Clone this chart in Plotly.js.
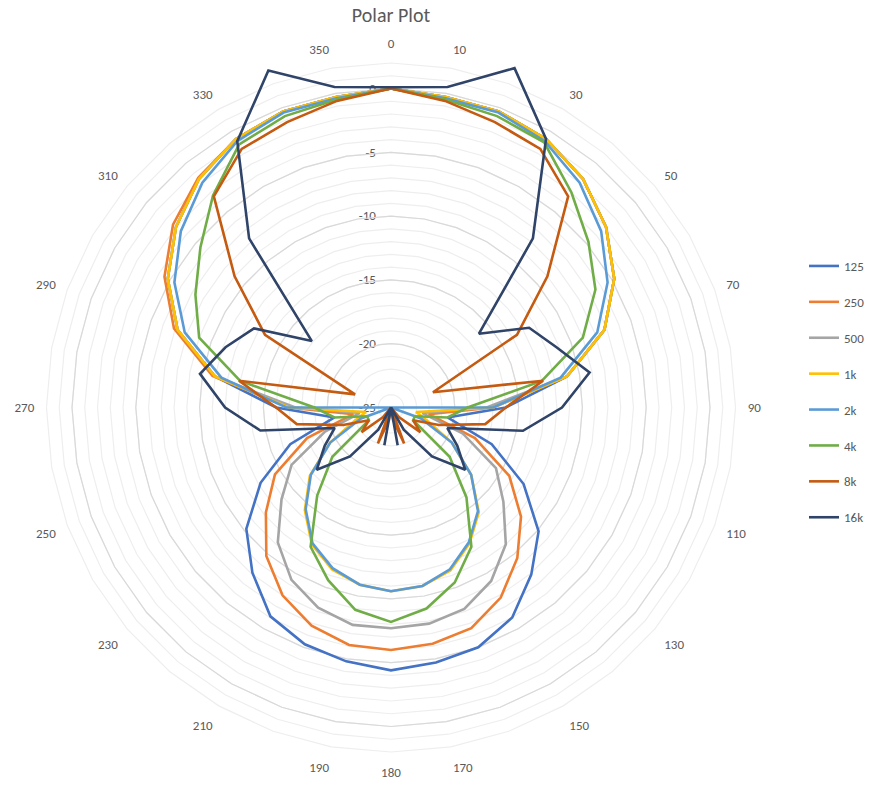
<!DOCTYPE html>
<html>
<head>
<meta charset="utf-8">
<script src="https://cdn.plot.ly/plotly-3.0.1.min.js"></script>
<style>html,body{margin:0;padding:0;background:#fff;}#chart{width:880px;height:797px;}</style>
</head>
<body>
<div id="chart"></div>
<script>
// Angular categories (degrees)
const angles = ["0","10","20","30","40","50","60","70","80","90","100","110","120","130","140","150","160","170",
                "180","190","200","210","220","230","240","250","260","270","280","290","300","310","320","330","340","350"];
// Angular labels actually shown in the reference (others hidden to avoid overlap)
const angleLabels = ["0","10","","30","","50","","70","","90","","110","","130","","150","","170",
                     "180","190","","210","","230","","250","","270","","290","","310","","330","","350"];
const seriesNames = ["125","250","500","1k","2k","4k","8k","16k"];

const s125 = [0,-0.3,-0.3,-0.7,-1.6,-3.0,-4.8,-7.2,-11,-16,-20.5,-16.6,-13,-9.9,-7.9,-6.0,-5.0,-4.7,
              -4.4,-4.8,-5.25,-6.1,-8.1,-10.2,-13.2,-16.6,-20.5,-16,-11,-7.2,-4.8,-3.0,-1.6,-0.7,-0.3,-0.3];
const s250 = [0,-0.3,-0.3,-0.7,-1.6,-3.0,-4.8,-7.2,-11,-17,-22,-18,-14.3,-11.7,-9.6,-7.8,-6.6,-6.2,
              -6.0,-6.1,-6.8,-8.0,-9.8,-12.2,-14.5,-18,-22,-17,-10.8,-6.9,-4.5,-2.7,-1.5,-0.7,-0.3,-0.3];
const s500 = [0,-0.3,-0.3,-0.7,-1.6,-3.0,-4.8,-7.2,-11,-17.5,-22.5,-19,-15.5,-13.5,-11,-9.3,-8.2,-7.8,
              -7.7,-7.7,-8.3,-9.4,-11.2,-13.8,-16,-19.5,-22.5,-17.5,-11,-7.2,-4.8,-3.0,-1.6,-0.7,-0.3,-0.3];
const s1k  = [0,-0.3,-0.3,-0.7,-1.6,-3.0,-4.8,-7.2,-11,-17,-23,-22,-19.5,-16.8,-14.3,-12.7,-11.4,-10.8,
              -10.6,-10.9,-11.5,-12.6,-14.5,-16.7,-19.5,-22,-23,-17,-11,-7.2,-4.8,-3.0,-1.6,-0.7,-0.3,-0.3];
const s2k  = [0,-0.4,-0.4,-0.9,-2.0,-3.5,-5.4,-7.8,-11.5,-17,-25,-22.5,-19.5,-16.8,-14.4,-12.8,-11.5,-10.8,
              -10.6,-10.9,-11.6,-12.7,-14.6,-16.8,-19.5,-22.5,-25,-16.8,-11.5,-7.8,-5.4,-3.5,-2.0,-0.9,-0.4,-0.4];
const s4k  = [0,-0.5,-0.7,-1.0,-3.0,-4.8,-6.5,-9,-13,-19,-20.5,-23,-23,-19,-15.8,-12.4,-10.4,-9.0,
              -8.2,-8.9,-10.6,-12.4,-16,-19,-23,-23,-20.5,-19,-13,-9,-7.3,-5.5,-3.3,-1.2,-0.7,-0.5];
const s8k  = [0,-0.6,-1.2,-1.6,-3.4,-9,-13.6,-21.5,-12.9,-16,-17.5,-21,-23,-22,-24,-25,-22,-24,
              -25,-24,-22,-25,-24,-22,-23,-21,-17.5,-16,-12.9,-22,-13.6,-9,-3.4,-1.6,-1.2,-0.6];
const s16k = [0.1,0.5,3.3,-0.7,-7.7,-16,-12.5,-11.2,-9.2,-11.6,-14.5,-20.3,-19,-17.4,-20,-23,-25,-22,
              -25,-22,-25,-23,-20,-17.4,-19,-20.3,-14.6,-12,-9.8,-11.2,-12.6,-16.9,-7.7,-0.9,3.1,0.5];

const seriesValues = [s125,s250,s500,s1k,s2k,s4k,s8k,s16k];
const colors = ["#4472C4","#ED7D31","#A5A5A5","#FFC000","#5B9BD5","#70AD47","#C55A11","#2F4468"];

// Radial tick values: every dB from -25 to +2, labels every 5 dB up to 0
const minorTicks = [];
for (let v = -25; v <= 2; v++) minorTicks.push(v);
const minorText = minorTicks.map(v => (v % 5 === 0 && v <= 0) ? String(v) : "");
const majorTicks = [-20,-15,-10,-5,0];

const rMin = -25, rMaxGrid = 2, rMaxData = 4;
const cx = 391, cy = 407.5, pxPerDb = 12.76;
const W = 880, H = 797;
function dom(rmax){
  const R = (rmax - rMin) * pxPerDb;
  return {x:[(cx-R)/W,(cx+R)/W], y:[(H-cy-R)/H,(H-cy+R)/H]};
}

const traces = seriesNames.map((n,i)=>{
  const r = seriesValues[i].concat([seriesValues[i][0]]);
  const th = angles.concat([angles[0]]);
  return {
    type:"scatterpolar", subplot:"polar3", name:n, r:r, theta:th, mode:"lines",
    line:{color:colors[i], width:2.6}, hoverinfo:"skip", legendgroup:"g"+i
  };
});

const fontFam = "Calibri, Carlito, 'Open Sans', 'Liberation Sans', Arial, sans-serif";
const grey = "#595959";

const layout = {
  width:W, height:H,
  margin:{l:0,r:0,t:0,b:0},
  paper_bgcolor:"#fff",
  font:{family:fontFam, color:grey, size:12},
  title:{text:"Polar Plot", x:391/W, xanchor:"center", y:1-15/H, yanchor:"middle", yref:"container",
         font:{size:20, color:grey, family:fontFam}},
  showlegend:true,
  legend:{x:804/W, y:1-251/H, xanchor:"left", yanchor:"top", tracegroupgap:16, itemwidth:30,
          font:{size:13, color:grey, family:fontFam}, bgcolor:"rgba(0,0,0,0)"},
  polar:{
    domain:dom(rMaxGrid), bgcolor:"rgba(0,0,0,0)", gridshape:"linear",
    radialaxis:{range:[rMin,rMaxGrid], tickvals:minorTicks, ticktext:minorText, showline:false,
                gridcolor:"#eeeeee", gridwidth:1.2, ticks:"outside", ticklen:10, tickcolor:"rgba(0,0,0,0)",
                angle:90, tickangle:90, side:"counterclockwise",
                tickfont:{size:13,color:grey}},
    angularaxis:{type:"category", categoryarray:angles, tickmode:"array", tickvals:angles, ticktext:angleLabels,
                 direction:"clockwise", rotation:90,
                 showgrid:false, showline:true, linecolor:"#eeeeee", linewidth:1.2,
                 ticks:"outside", ticklen:9, tickcolor:"rgba(0,0,0,0)",
                 tickfont:{size:13,color:grey}}
  },
  polar2:{
    domain:dom(rMaxGrid), bgcolor:"rgba(0,0,0,0)", gridshape:"linear",
    radialaxis:{range:[rMin,rMaxGrid], tickvals:majorTicks, showticklabels:false, showline:false,
                gridcolor:"#d9d9d9", gridwidth:1.2, ticks:"", angle:90},
    angularaxis:{type:"category", categoryarray:angles, direction:"clockwise", rotation:90,
                 showgrid:false, showline:false, showticklabels:false, ticks:""}
  },
  polar3:{
    domain:dom(rMaxData), bgcolor:"rgba(0,0,0,0)", gridshape:"linear",
    radialaxis:{range:[rMin,rMaxData], visible:false, showgrid:false, angle:90},
    angularaxis:{type:"category", categoryarray:angles, direction:"clockwise", rotation:90,
                 showgrid:false, showline:false, showticklabels:false, ticks:""}
  }
};

// placeholder traces so the grid subplots polar and polar2 exist
const dummy1 = {type:"scatterpolar", subplot:"polar", r:[rMin], theta:[angles[0]], mode:"lines", showlegend:false, hoverinfo:"skip"};
const dummy2 = {type:"scatterpolar", subplot:"polar2", r:[rMin], theta:[angles[0]], mode:"lines", showlegend:false, hoverinfo:"skip"};

Plotly.newPlot("chart", [dummy1, dummy2].concat(traces), layout, {displayModeBar:false, staticPlot:true});
</script>
</body>
</html>
